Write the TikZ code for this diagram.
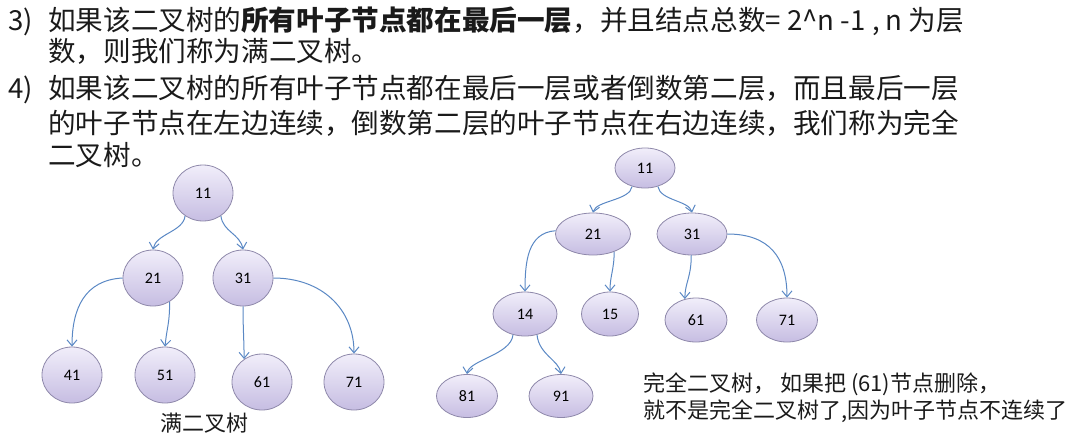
\documentclass[tikz,border=0pt]{standalone}
\usepackage{fontspec}
\setmainfont{Noto Sans CJK SC}
\newfontfamily\numfont{Carlito}
\usetikzlibrary{arrows.meta,shapes.geometric}
\definecolor{nodeline}{HTML}{8E88AA}
\definecolor{nodetop}{HTML}{F1EEFA}
\definecolor{nodebot}{HTML}{C6BDE2}
\definecolor{edgeblue}{HTML}{5A88C4}
\definecolor{textdark}{HTML}{1A1A1A}

\begin{document}
\begin{tikzpicture}[x=1pt,y=-1pt,
tnode/.style={ellipse,draw=nodeline,top color=nodetop,bottom color=nodebot,line width=.8pt,inner sep=0pt,font=\numfont\fontsize{16}{16}\selectfont},
circ/.style={tnode,minimum width=60pt,minimum height=56pt},
oval/.style={tnode,minimum width=#1,minimum height=44pt},
link/.style={-{Straight Barb[length=6pt,width=10pt]},draw=edgeblue,line width=1pt},
textline/.style={anchor=base west,inner sep=0pt,font=\fontsize{27.6}{27.6}\selectfont,text=textdark},
note/.style={anchor=base west,inner sep=0pt,font=\fontsize{22}{22}\selectfont,text=textdark}]
\useasboundingbox (0,0) rectangle (1069,440);
% definitions 3) and 4)
\node[textline] (num3) at (8,30) {3)};
\node[textline] (def3a) at (48,30) {如果该二叉树的\textbf{所有叶子节点都在最后一层}，并且结点总数= 2\textasciicircum n -1 , n 为层};
\node[textline] (def3b) at (48,61) {数，则我们称为满二叉树。};
\node[textline] (num4) at (8,98) {4)};
\node[textline] (def4a) at (48,98) {如果该二叉树的所有叶子节点都在最后一层或者倒数第二层，而且最后一层};
\node[textline] (def4b) at (48,133) {的叶子节点在左边连续，倒数第二层的叶子节点在右边连续，我们称为完全};
\node[textline] (def4c) at (48,165) {二叉树。};
% full binary tree
\node[circ] (full11) at (203,193) {11};
\node[circ] (full21) at (153,278) {21};
\node[circ] (full31) at (243,278) {31};
\node[circ] (full41) at (72,375) {41};
\node[circ] (full51) at (165,375) {51};
\node[circ] (full61) at (262,382) {61};
\node[circ] (full71) at (354,382) {71};
\draw[link] (full11.-128) .. controls +(-2,16) and +(3,-16) .. (full21.north);
\draw[link] (full11.-52) .. controls +(2,16) and +(-3,-16) .. (full31.north);
\draw[link] (full21.west) .. controls +(-38,2) and +(0,-38) .. (full41.north);
\draw[link] (full21.-55) .. controls +(0,22) and +(2,-20) .. (full51.north);
\draw[link] (full31.south) .. controls +(0,22) and +(0,-18) .. (full61.128);
\draw[link] (full31.east) .. controls +(48,0) and +(0,-45) .. (full71.north);
\node[note] (fullcap) at (160,431) {满二叉树};
% complete binary tree
\node[oval=60pt,minimum height=40pt] (comp11) at (645,168) {11};
\node[oval=75pt,minimum height=42pt] (comp21) at (593,234) {21};
\node[oval=70pt,minimum height=42pt] (comp31) at (692,234) {31};
\node[oval=64pt] (comp14) at (525,314) {14};
\node[oval=57pt] (comp15) at (610,314) {15};
\node[oval=62pt] (comp61) at (696,320) {61};
\node[oval=61pt] (comp71) at (787,320) {71};
\node[oval=61pt,minimum height=43pt] (comp81) at (467,396) {81};
\node[oval=64pt,minimum height=43pt] (comp91) at (561,396) {91};
\draw[link] (comp11.-125) .. controls +(-2,14) and +(3,-12) .. (comp21.north);
\draw[link] (comp11.-55) .. controls +(2,14) and +(-3,-12) .. (comp31.north);
\draw[link] (comp21.175) .. controls +(-28,2) and +(0,-30) .. (comp14.north);
\draw[link] (comp21.-40) .. controls +(0,18) and +(0,-16) .. (comp15.north);
\draw[link] (comp31.-92) .. controls +(0,22) and +(0,-16) .. (comp61.118);
\draw[link] (comp31.east) .. controls +(42,0) and +(0,-40) .. (comp71.north);
\draw[link] (comp14.-120) .. controls +(-2,20) and +(2,-14) .. (comp81.north);
\draw[link] (comp14.-60) .. controls +(2,20) and +(-2,-14) .. (comp91.north);
\node[note] (compnote) at (643,391) {完全二叉树， 如果把 (61)节点删除，};
\node[note] (compnote2) at (643,418) {就不是完全二叉树了,因为叶子节点不连续了};
\end{tikzpicture}
\end{document}
